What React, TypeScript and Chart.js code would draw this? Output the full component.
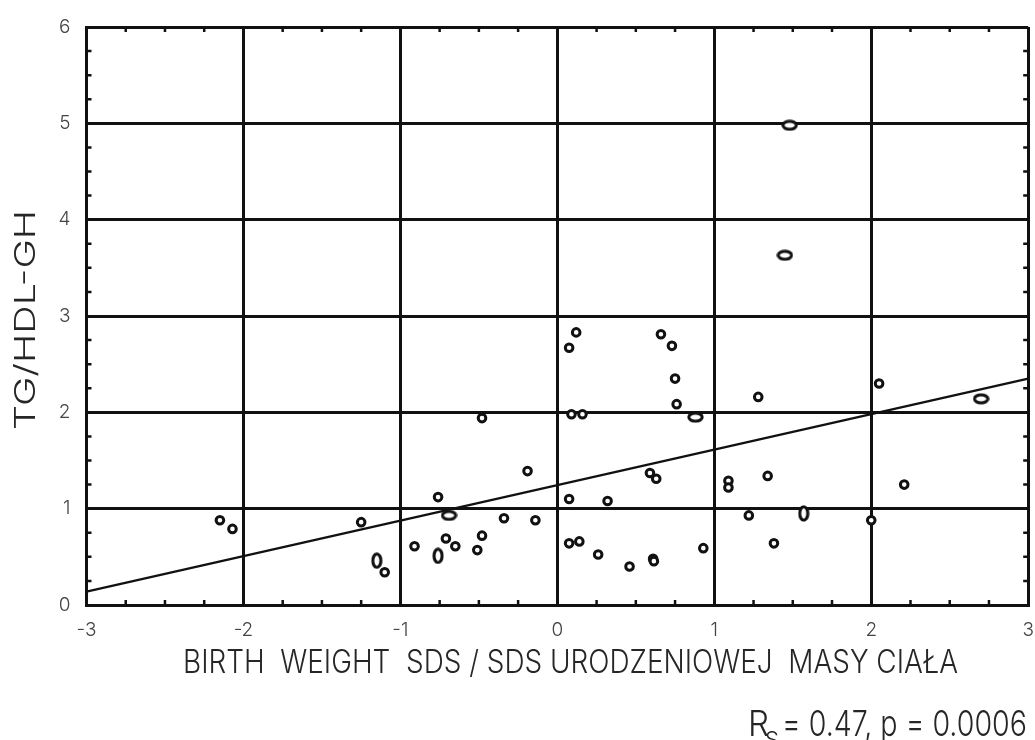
import React, { useEffect, useRef } from "react";
import { Chart, registerables } from "chart.js";

Chart.register(...registerables);

// ---- data ----
const xValues = [
  -2.15, -2.07, -1.25, -1.15, -1.15, -1.1, -0.91, -0.76, -0.48, -0.69, -0.67, -0.71, -0.76, -0.76, -0.65,
  -0.51, -0.48, -0.34, -0.19, -0.14, 0.12, 0.075, 0.09, 0.16, 0.66, 0.73, 0.75, 0.76, 0.88, 0.9,
  1.28, 0.59, 0.63, 1.09, 1.09, 1.34, 0.075, 0.32, 0.075, 0.14, 0.26, 0.46, 0.61, 0.615,
  0.93, 1.22, 1.38, 1.48, 1.5, 1.45, 1.47, 2.05, 2.7, 2.72, 2.21, 1.57, 1.57, 2.0,
];
const yValues = [
  0.88, 0.79, 0.86, 0.46, 0.5, 0.34, 0.61, 1.12, 1.94, 0.93, 0.93, 0.69, 0.51, 0.54, 0.61,
  0.57, 0.72, 0.9, 1.39, 0.88, 2.83, 2.67, 1.98, 1.98, 2.81, 2.69, 2.35, 2.085, 1.95, 1.95,
  2.16, 1.37, 1.31, 1.29, 1.22, 1.34, 1.1, 1.08, 0.64, 0.66, 0.525, 0.4, 0.48, 0.455,
  0.59, 0.93, 0.64, 4.98, 4.98, 3.63, 3.63, 2.3, 2.14, 2.14, 1.25, 0.95, 0.98, 0.88,
];
const fitX = [-3, 3];
const fitY = [0.14, 2.35];
const xTickValues = [-3, -2, -1, 0, 1, 2, 3];
const yTickValues = [0, 1, 2, 3, 4, 5, 6];
const xTitle = "BIRTH  WEIGHT  SDS / SDS URODZENIOWEJ  MASY CIAŁA";
const yTitle = "TG/HDL-GH";
const statMain = "R";
const statSub = "S";
const statRest = "= 0.47, p = 0.0006";

const MINOR_STEP = 0.25;
const INK = "#111";
const TEXT = "#262626";
const FONT = "Inter, 'Liberation Sans', Arial, sans-serif";
const WEIGHT = 300;
const MARK_R = 3.8;
const MARK_W = 3;
const MERGE_PX = 4.5;

function drawFitText(
  ctx: CanvasRenderingContext2D,
  text: string,
  x: number,
  y: number,
  size: number,
  width: number,
  align: CanvasTextAlign
) {
  ctx.save();
  ctx.font = `${WEIGHT} ${size}px ${FONT}`;
  const w = ctx.measureText(text).width;
  ctx.translate(x, y);
  ctx.scale(width / w, 1);
  ctx.textAlign = align;
  ctx.textBaseline = "alphabetic";
  ctx.fillStyle = TEXT;
  ctx.fillText(text, 0, 0);
  ctx.restore();
}

function makeEllipseMarker(): HTMLCanvasElement {
  const c = document.createElement("canvas");
  c.width = 17;
  c.height = 12;
  const g = c.getContext("2d")!;
  g.beginPath();
  g.ellipse(8.5, 6, 8.5 - MARK_W / 2 - 0.3, 6 - MARK_W / 2 - 0.4, 0, 0, Math.PI * 2);
  g.fillStyle = "#ffffff";
  g.fill();
  g.lineWidth = MARK_W;
  g.strokeStyle = INK;
  g.stroke();
  return c;
}

const decorPlugin = {
  id: "decor",
  afterDatasetsDraw(chart: any) {
    const { ctx, chartArea: a, scales } = chart;
    const xs = scales.x;
    const ys = scales.y;
    const len = 5;
    ctx.save();
    ctx.strokeStyle = INK;
    ctx.lineWidth = 2.5;
    ctx.beginPath();
    for (let v = xs.min; v <= xs.max + 1e-9; v += MINOR_STEP) {
      if (Math.abs(v - Math.round(v)) < 1e-6) continue;
      const px = xs.getPixelForValue(v);
      ctx.moveTo(px, a.bottom);
      ctx.lineTo(px, a.bottom - len);
      ctx.moveTo(px, a.top);
      ctx.lineTo(px, a.top + len);
    }
    for (let v = ys.min; v <= ys.max + 1e-9; v += MINOR_STEP) {
      if (Math.abs(v - Math.round(v)) < 1e-6) continue;
      const py = ys.getPixelForValue(v);
      ctx.moveTo(a.left, py);
      ctx.lineTo(a.left + len, py);
      ctx.moveTo(a.right, py);
      ctx.lineTo(a.right - len, py);
    }
    ctx.stroke();
    ctx.restore();
  },
  afterDraw(chart: any) {
    const ctx: CanvasRenderingContext2D = chart.ctx;
    drawFitText(ctx, xTitle, 570.5, 673, 32, 775, "center");
    ctx.save();
    ctx.translate(35, 320);
    ctx.rotate(-Math.PI / 2);
    ctx.font = `${WEIGHT} 29px ${FONT}`;
    const w = ctx.measureText(yTitle).width;
    ctx.scale(220 / w, 1);
    ctx.textAlign = "center";
    ctx.textBaseline = "alphabetic";
    ctx.fillStyle = TEXT;
    ctx.fillText(yTitle, 0, 0);
    ctx.restore();
    drawFitText(ctx, statMain, 748, 736, 36, 21, "left");
    drawFitText(ctx, statSub, 765, 747, 22, 14, "left");
    drawFitText(ctx, statRest, 1027, 736, 36, 245, "right");
  },
};

export default function App() {
  const ref = useRef<HTMLCanvasElement | null>(null);

  useEffect(() => {
    document.body.style.margin = "0";
    const canvas = ref.current;
    if (!canvas) return;
    const points = xValues.map((x, i) => ({ x, y: yValues[i] }));
    const fit = fitX.map((x, i) => ({ x, y: fitY[i] }));
    const tickFont = { family: FONT, size: 19, weight: WEIGHT as any };
    const ellipse = makeEllipseMarker();

    // near-coincident points are drawn as one elongated mark
    const partner = (chart: any, i: number) => {
      const xs = chart.scales.x;
      const ys = chart.scales.y;
      const pxi = xs.getPixelForValue(xValues[i]);
      const pyi = ys.getPixelForValue(yValues[i]);
      for (let j = 0; j < xValues.length; j++) {
        if (j === i) continue;
        const dx = xs.getPixelForValue(xValues[j]) - pxi;
        const dy = ys.getPixelForValue(yValues[j]) - pyi;
        if (Math.hypot(dx, dy) <= MERGE_PX && (Math.abs(dx) < 0.01 || Math.abs(dy) < 0.01)) {
          return { j, dx, dy };
        }
      }
      return null;
    };

    const chart = new Chart(canvas, {
      type: "scatter",
      data: {
        datasets: [
          {
            type: "scatter",
            data: points,
            pointStyle: (c: any) => (partner(c.chart, c.dataIndex) ? ellipse : "circle"),
            pointRotation: (c: any) => {
              const p = partner(c.chart, c.dataIndex);
              return p ? (Math.atan2(p.dy, p.dx) * 180) / Math.PI : 0;
            },
            pointRadius: (c: any) => {
              const p = partner(c.chart, c.dataIndex);
              return p && p.j < c.dataIndex ? 0 : MARK_R;
            },
            pointHoverRadius: MARK_R,
            pointBorderWidth: MARK_W,
            borderColor: INK,
            backgroundColor: "#ffffff",
            order: 0,
          },
          {
            type: "line",
            data: fit,
            borderColor: INK,
            borderWidth: 2.3,
            pointRadius: 0,
            fill: false,
            order: 1,
          },
        ],
      },
      options: {
        responsive: false,
        animation: false,
        devicePixelRatio: 1,
        layout: { padding: { left: 0, top: 27, right: 4, bottom: 0 } },
        plugins: { legend: { display: false }, tooltip: { enabled: false }, title: { display: false } },
        events: [],
        scales: {
          x: {
            type: "linear",
            min: -3,
            max: 3,
            afterBuildTicks: (s: any) => {
              s.ticks = xTickValues.map((v) => ({ value: v }));
            },
            afterFit: (s: any) => {
              s.height = 135;
              s.paddingLeft = 0;
              s.paddingRight = 0;
            },
            ticks: { color: "#444", font: tickFont, padding: 14, maxRotation: 0, autoSkip: false },
            grid: { color: INK, lineWidth: 3, drawTicks: false },
            border: { display: true, color: INK, width: 3 },
          },
          y: {
            type: "linear",
            min: 0,
            max: 6,
            afterBuildTicks: (s: any) => {
              s.ticks = yTickValues.map((v) => ({ value: v }));
            },
            afterFit: (s: any) => {
              s.width = 86.5;
              s.paddingTop = 0;
              s.paddingBottom = 0;
            },
            ticks: { color: "#444", font: tickFont, padding: 16, autoSkip: false },
            grid: { color: INK, lineWidth: 3, drawTicks: false },
            border: { display: true, color: INK, width: 3 },
          },
        },
      },
      plugins: [decorPlugin],
    } as any);

    return () => chart.destroy();
  }, []);

  return (
    <div style={{ position: "fixed", left: 0, top: 0, width: 1035, height: 740, background: "#fff" }}>
      <canvas ref={ref} width={1035} height={740} style={{ display: "block" }} />
    </div>
  );
}
